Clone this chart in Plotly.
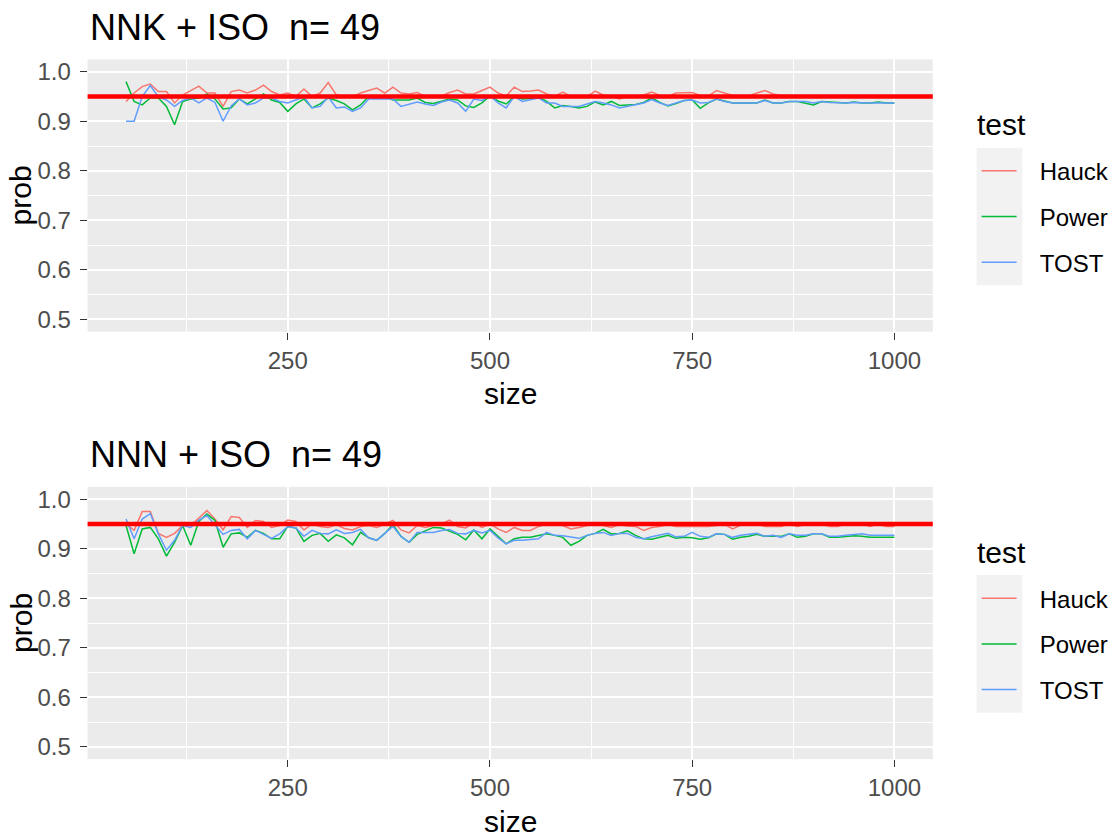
import plotly.graph_objects as go

sizes = list(range(50, 1001, 10))
tests = ["Hauck", "Power", "TOST"]
colors = {"Hauck": "#F8766D", "Power": "#00BA38", "TOST": "#619CFF"}
ref_level = 0.95

# ---- Panel 1: NNK + ISO  n= 49 ----
nnk_hauck = [0.940, 0.957, 0.970, 0.975, 0.960, 0.960, 0.937, 0.953, 0.962, 0.971,
             0.957, 0.957, 0.930, 0.960, 0.963, 0.957, 0.963, 0.973, 0.960, 0.953,
             0.957, 0.950, 0.965, 0.950, 0.957, 0.978, 0.953, 0.950, 0.949, 0.957,
             0.962, 0.967, 0.957, 0.969, 0.957, 0.955, 0.958, 0.950, 0.950, 0.951,
             0.958, 0.963, 0.955, 0.955, 0.962, 0.969, 0.957, 0.951, 0.969, 0.960,
             0.961, 0.963, 0.955, 0.950, 0.959, 0.950, 0.950, 0.950, 0.961, 0.953,
             0.951, 0.945, 0.950, 0.950, 0.953, 0.959, 0.952, 0.950, 0.957, 0.957,
             0.958, 0.952, 0.951, 0.962, 0.957, 0.952, 0.951, 0.951, 0.957, 0.962,
             0.955, 0.952, 0.952, 0.951, 0.951, 0.951, 0.951, 0.951, 0.951, 0.951,
             0.951, 0.951, 0.951, 0.951, 0.951, 0.951]
nnk_power = [0.980, 0.940, 0.933, 0.947, 0.947, 0.930, 0.893, 0.940, 0.945, 0.947,
             0.955, 0.945, 0.925, 0.927, 0.945, 0.935, 0.945, 0.955, 0.943, 0.938,
             0.920, 0.935, 0.945, 0.927, 0.935, 0.947, 0.942, 0.935, 0.923, 0.933,
             0.950, 0.947, 0.950, 0.943, 0.943, 0.943, 0.947, 0.938, 0.936, 0.941,
             0.945, 0.943, 0.931, 0.928, 0.937, 0.951, 0.941, 0.935, 0.950, 0.945,
             0.946, 0.949, 0.940, 0.927, 0.932, 0.930, 0.927, 0.930, 0.939, 0.933,
             0.940, 0.932, 0.933, 0.934, 0.938, 0.947, 0.938, 0.931, 0.936, 0.942,
             0.943, 0.926, 0.937, 0.945, 0.941, 0.937, 0.937, 0.937, 0.937, 0.943,
             0.937, 0.937, 0.940, 0.940, 0.937, 0.933, 0.940, 0.939, 0.937, 0.937,
             0.939, 0.937, 0.937, 0.939, 0.937, 0.937]
nnk_tost = [0.900, 0.900, 0.950, 0.972, 0.949, 0.943, 0.930, 0.942, 0.947, 0.937,
            0.947, 0.938, 0.900, 0.931, 0.945, 0.933, 0.937, 0.947, 0.947, 0.940,
            0.937, 0.943, 0.949, 0.927, 0.930, 0.949, 0.927, 0.929, 0.920, 0.927,
            0.945, 0.945, 0.945, 0.945, 0.930, 0.934, 0.939, 0.935, 0.932, 0.939,
            0.943, 0.937, 0.920, 0.945, 0.942, 0.951, 0.937, 0.927, 0.950, 0.940,
            0.943, 0.947, 0.937, 0.937, 0.930, 0.930, 0.930, 0.935, 0.940, 0.937,
            0.933, 0.927, 0.930, 0.934, 0.937, 0.944, 0.937, 0.932, 0.937, 0.942,
            0.943, 0.937, 0.938, 0.945, 0.940, 0.937, 0.937, 0.937, 0.937, 0.942,
            0.937, 0.937, 0.940, 0.940, 0.940, 0.937, 0.940, 0.938, 0.937, 0.937,
            0.938, 0.937, 0.937, 0.937, 0.937, 0.937]

# ---- Panel 2: NNN + ISO  n= 49 ----
nnn_hauck = [0.950, 0.937, 0.975, 0.975, 0.931, 0.923, 0.931, 0.947, 0.947, 0.963,
             0.977, 0.960, 0.938, 0.965, 0.963, 0.943, 0.957, 0.955, 0.943, 0.947,
             0.958, 0.955, 0.938, 0.950, 0.945, 0.943, 0.949, 0.941, 0.938, 0.945,
             0.947, 0.943, 0.950, 0.957, 0.938, 0.932, 0.947, 0.943, 0.947, 0.950,
             0.958, 0.945, 0.942, 0.953, 0.943, 0.950, 0.940, 0.933, 0.943, 0.937,
             0.937, 0.945, 0.950, 0.950, 0.947, 0.940, 0.943, 0.947, 0.953, 0.947,
             0.943, 0.949, 0.946, 0.945, 0.937, 0.943, 0.945, 0.949, 0.945, 0.945,
             0.945, 0.945, 0.945, 0.947, 0.949, 0.940, 0.948, 0.950, 0.950, 0.945,
             0.945, 0.945, 0.950, 0.945, 0.949, 0.950, 0.950, 0.945, 0.945, 0.950,
             0.950, 0.950, 0.945, 0.950, 0.945, 0.945]
nnn_power = [0.947, 0.890, 0.940, 0.943, 0.920, 0.885, 0.913, 0.947, 0.907, 0.955,
             0.970, 0.957, 0.903, 0.930, 0.932, 0.923, 0.937, 0.931, 0.920, 0.920,
             0.945, 0.942, 0.915, 0.927, 0.931, 0.915, 0.928, 0.922, 0.908, 0.933,
             0.922, 0.917, 0.931, 0.949, 0.925, 0.913, 0.929, 0.936, 0.943, 0.942,
             0.935, 0.929, 0.918, 0.938, 0.920, 0.940, 0.925, 0.910, 0.920, 0.923,
             0.923, 0.926, 0.930, 0.927, 0.923, 0.907, 0.915, 0.927, 0.931, 0.939,
             0.930, 0.931, 0.936, 0.927, 0.920, 0.919, 0.923, 0.927, 0.921, 0.923,
             0.922, 0.919, 0.922, 0.930, 0.929, 0.919, 0.923, 0.925, 0.929, 0.925,
             0.925, 0.925, 0.930, 0.923, 0.925, 0.930, 0.930, 0.923, 0.923, 0.925,
             0.926, 0.925, 0.923, 0.923, 0.923, 0.923]
nnn_tost = [0.960, 0.920, 0.960, 0.971, 0.930, 0.897, 0.917, 0.947, 0.943, 0.958,
            0.967, 0.947, 0.929, 0.937, 0.939, 0.920, 0.937, 0.929, 0.921, 0.930,
            0.945, 0.942, 0.925, 0.937, 0.931, 0.930, 0.938, 0.931, 0.933, 0.939,
            0.922, 0.917, 0.931, 0.945, 0.925, 0.913, 0.933, 0.933, 0.933, 0.937,
            0.939, 0.931, 0.930, 0.937, 0.932, 0.937, 0.922, 0.910, 0.917, 0.917,
            0.918, 0.920, 0.933, 0.927, 0.926, 0.923, 0.921, 0.927, 0.931, 0.933,
            0.927, 0.931, 0.931, 0.923, 0.920, 0.924, 0.927, 0.931, 0.924, 0.925,
            0.933, 0.925, 0.923, 0.930, 0.929, 0.923, 0.927, 0.929, 0.931, 0.925,
            0.927, 0.923, 0.930, 0.927, 0.927, 0.930, 0.930, 0.925, 0.925, 0.927,
            0.929, 0.930, 0.927, 0.927, 0.927, 0.927]

panels = [
    ("NNK + ISO  n= 49", {"Hauck": nnk_hauck, "Power": nnk_power, "TOST": nnk_tost}),
    ("NNN + ISO  n= 49", {"Hauck": nnn_hauck, "Power": nnn_power, "TOST": nnn_tost}),
]

# The page's body margin is removed (post_script below), so the figure fills
# the 1115x834 window exactly and positions are given in page pixels.
W, H = 1115, 834
def px(x):
    return x / W
def py(y):
    return 1 - y / H

PANEL_X = (88, 937)
PANEL_Y = [(58.5, 331.5), (487, 760)]
FONT = "Liberation Sans, Arial, sans-serif"
NBSP = "\u00a0"

fig = go.Figure()
layout = dict(
    width=W, height=H,
    margin=dict(l=0, r=0, t=0, b=0),
    paper_bgcolor="white",
    plot_bgcolor="#EBEBEB",
    font=dict(family=FONT, color="#000000"),
    showlegend=True,
)

annotations = []
shapes = []
for i, (title, series) in enumerate(panels):
    xa = "x" if i == 0 else "x2"
    ya = "y" if i == 0 else "y2"
    lg = "legend" if i == 0 else "legend2"
    for t in tests:
        fig.add_trace(go.Scatter(
            x=sizes, y=series[t], mode="lines", name=NBSP * 2 + "\u2009" + t,
            line=dict(color=colors[t], width=1.5),
            xaxis=xa, yaxis=ya, legend=lg, legendgroup=f"{lg}_{t}",
        ))
    y0, y1 = PANEL_Y[i]
    axkey = "" if i == 0 else "2"
    layout["xaxis" + axkey] = dict(
        domain=[px(PANEL_X[0]), px(PANEL_X[1])], anchor="y" + axkey,
        range=[2.5, 1047.5], tickmode="linear", tick0=0, dtick=250,
        showgrid=True, gridcolor="white", gridwidth=1.5, zeroline=False,
        ticks="outside", ticklen=7, tickwidth=1.4, tickcolor="#333333",
        tickfont=dict(size=24, color="#4D4D4D", family=FONT),
        minor=dict(dtick=125, tick0=0, showgrid=True, gridcolor="white", gridwidth=0.7, ticks=""),
        showline=False,
    )
    layout["yaxis" + axkey] = dict(
        domain=[py(y1), py(y0)], anchor="x" + axkey,
        range=[0.475, 1.025], tickmode="linear", tick0=0.5, dtick=0.1, tickformat=".1f",
        showgrid=True, gridcolor="white", gridwidth=1.5, zeroline=False,
        ticks="outside", ticklen=7, tickwidth=1.4, tickcolor="#333333",
        tickfont=dict(size=24, color="#4D4D4D", family=FONT),
        ticklabelstandoff=4,
        minor=dict(dtick=0.05, tick0=0.5, showgrid=True, gridcolor="white", gridwidth=0.7, ticks=""),
        showline=False,
    )
    shapes.append(dict(type="line", xref=f"x{axkey} domain", yref="y" + axkey,
                       x0=0, x1=1, y0=ref_level, y1=ref_level,
                       line=dict(color="#FF0000", width=4.5), layer="above"))
    # title
    annotations.append(dict(text=title, x=px(PANEL_X[0]), y=py(y0 - 32), xref="paper", yref="paper",
                            xanchor="left", yanchor="middle", showarrow=False,
                            font=dict(size=36, color="#000000", family=FONT)))
    # axis titles
    annotations.append(dict(text="size", x=px((PANEL_X[0] + PANEL_X[1]) / 2), y=py(y1 + 62),
                            xref="paper", yref="paper", xanchor="center", yanchor="middle",
                            showarrow=False, font=dict(size=30, color="#000000", family=FONT)))
    annotations.append(dict(text="prob", x=px(21), y=py((y0 + y1) / 2), textangle=-90,
                            xref="paper", yref="paper", xanchor="center", yanchor="middle",
                            showarrow=False, font=dict(size=30, color="#000000", family=FONT)))
    off = y0 - PANEL_Y[0][0]
    # legend title
    annotations.append(dict(text="test", x=px(979), y=py(124 + off), xref="paper", yref="paper",
                            xanchor="left", yanchor="middle", showarrow=False,
                            font=dict(size=30, color="#000000", family=FONT)))
    # legend key background
    shapes.append(dict(type="rect", xref="paper", yref="paper",
                       x0=px(981), x1=px(1027), y0=py(285 + off), y1=py(147 + off),
                       fillcolor="#F2F2F2", line=dict(width=0), layer="below"))
    layout[lg] = dict(
        x=px(981), y=py(148 + off), xanchor="left", yanchor="top",
        bgcolor="rgba(0,0,0,0)", borderwidth=0,
        font=dict(size=24, color="#000000", family=FONT),
        tracegroupgap=11.5, itemwidth=35,
    )

layout["annotations"] = annotations
layout["shapes"] = shapes
fig.update_layout(**layout)
fig.write_html(
    "out.html",
    config={"displayModeBar": False},
    post_script="document.body.style.margin='0';document.body.style.overflow='hidden';",
)
